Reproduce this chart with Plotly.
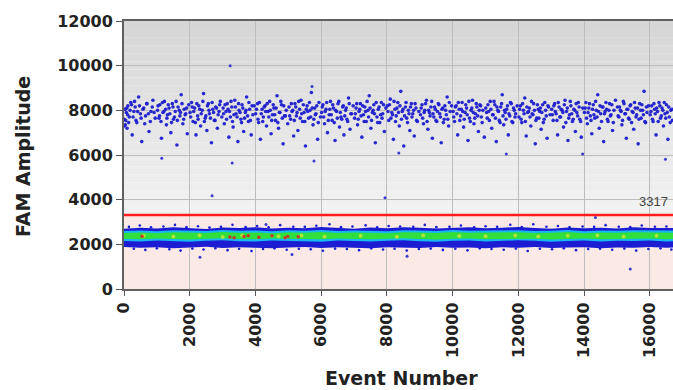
import plotly.graph_objects as go

# ---------------- data ----------------
threshold = 3317

x_ticks = [0, 2000, 4000, 6000, 8000, 10000, 12000, 14000, 16000]
y_ticks = [0, 2000, 4000, 6000, 8000, 10000, 12000]

# positive droplets (FAM+ cluster), spread part
pos_event = [
    15, 30, 52, 70, 95, 120, 160, 205, 250, 300, 340, 390, 445, 500, 540, 600, 655, 700, 760, 820, 880, 950,
    1020, 1065, 1090, 1140, 1185, 1230, 1290, 1320, 1370, 1425, 1470, 1505, 1560, 1610, 1645, 1700, 1740, 1790, 1830, 1880, 1925, 1970,
    2010, 2055, 2100, 2150, 2190, 2240, 2275, 2330, 2380, 2420, 2470, 2520, 2565, 2600, 2660, 2700, 2750, 2790, 2840, 2890, 2930, 2975,
    3015, 3050, 3105, 3140, 3190, 3235, 3280, 3320, 3370, 3410, 3465, 3500, 3555, 3590, 3640, 3690, 3730, 3785, 3820, 3870, 3920, 3960,
    4005, 4060, 4095, 4150, 4200, 4240, 4290, 4335, 4380, 4430, 4475, 4515, 4560, 4610, 4655, 4700, 4745, 4790, 4840, 4880, 4935, 4980,
    5020, 5070, 5110, 5160, 5200, 5245, 5290, 5340, 5385, 5430, 5480, 5520, 5570, 5615, 5660, 5700, 5750, 5800, 5840, 5890, 5930, 5975,
    6010, 6050, 6100, 6145, 6190, 6240, 6280, 6330, 6370, 6420, 6465, 6510, 6555, 6600, 6650, 6690, 6740, 6780, 6830, 6875, 6920, 6970,
    7015, 7060, 7105, 7150, 7190, 7235, 7285, 7325, 7370, 7420, 7460, 7510, 7555, 7600, 7645, 7695, 7735, 7780, 7830, 7870, 7920, 7965,
    8010, 8055, 8100, 8145, 8195, 8240, 8280, 8330, 8375, 8420, 8465, 8510, 8560, 8600, 8650, 8695, 8740, 8785, 8830, 8880, 8925, 8970,
    9020, 9065, 9110, 9150, 9200, 9245, 9290, 9335, 9380, 9425, 9470, 9515, 9560, 9605, 9650, 9695, 9740, 9785, 9830, 9875, 9920, 9965,
    10010, 10055, 10105, 10150, 10195, 10240, 10285, 10330, 10375, 10420, 10465, 10510, 10555, 10600, 10645, 10690, 10735, 10780, 10825, 10870, 10915, 10960,
    11005, 11050, 11095, 11140, 11185, 11230, 11280, 11325, 11370, 11415, 11460, 11505, 11550, 11595, 11640, 11690, 11735, 11780, 11825, 11870, 11915, 11960,
    12015, 12060, 12100, 12150, 12190, 12235, 12280, 12330, 12375, 12415, 12460, 12510, 12555, 12600, 12645, 12690, 12735, 12780, 12825, 12870, 12915, 12960,
    13010, 13055, 13100, 13145, 13190, 13235, 13280, 13325, 13370, 13415, 13460, 13505, 13550, 13595, 13640, 13685, 13730, 13775, 13820, 13865, 13910, 13955,
    14005, 14050, 14095, 14140, 14185, 14230, 14275, 14320, 14365, 14410, 14455, 14500, 14545, 14590, 14635, 14680, 14725, 14770, 14815, 14860, 14905, 14950,
    15010, 15055, 15100, 15145, 15190, 15235, 15280, 15325, 15370, 15415, 15460, 15505, 15550, 15595, 15640, 15685, 15730, 15775, 15820, 15865, 15910, 15955,
    16005, 16050, 16095, 16140, 16185, 16230, 16275, 16320, 16365, 16410, 16455, 16500, 16545, 16590, 16635, 16680,
]
pos_amp = [
    7300, 8050, 7550, 7900, 7200, 8200, 7700, 8350, 6900, 7950, 8150, 7450, 8600, 7850, 6600, 8100, 7750, 8300, 7050, 7950, 8450, 7650,
    8000, 7650, 8250, 6750, 7900, 8400, 7350, 7800, 8100, 7000, 8300, 7600, 7950, 6450, 8150, 7750, 8700, 7400, 8050, 7850, 6950, 8250,
    7900, 8350, 7500, 8100, 6900, 7750, 8200, 7300, 8000, 8750, 7650, 7100, 8300, 7850, 6550, 8050, 7550, 8150, 7200, 7950, 8400, 7700,
    8100, 7400, 7950, 8300, 6800, 7700, 8150, 7250, 8450, 7850, 6600, 8000, 7600, 8250, 7050, 7900, 8600, 7500, 8050, 6900, 7800, 8200,
    7850, 8300, 7450, 6700, 8050, 7700, 8200, 7300, 7950, 8400, 6950, 7800, 8100, 7550, 8650, 7200, 7900, 8250, 6500, 7750, 8000, 7400,
    8150, 7600, 7950, 6850, 8300, 7750, 7100, 8050, 8450, 7500, 7900, 6400, 8200, 7650, 8000, 8800, 7350, 8100, 7850, 6700, 8350, 7700,
    7900, 8250, 7400, 8050, 7000, 7800, 8400, 7550, 8100, 6650, 7950, 8300, 7250, 7700, 8150, 6900, 8000, 7600, 8550, 7150, 7850, 8200,
    7650, 8100, 7350, 7950, 8300, 6800, 7800, 8150, 7500, 8000, 8650, 7200, 7900, 8250, 6550, 7700, 8050, 7450, 8350, 7850, 7050, 8100,
    8200, 7550, 8500, 7900, 6700, 8050, 7750, 8350, 7300, 8850, 7950, 6400, 8150, 7650, 8000, 7100, 8300, 7850, 6850, 8100, 7500, 7950,
    7800, 8250, 7400, 8000, 8450, 7150, 7900, 8150, 6750, 7700, 8050, 7500, 8300, 7850, 6550, 8100, 7600, 8000, 8600, 7300, 7950, 8200,
    7950, 7500, 8200, 6900, 8050, 7750, 8350, 7250, 7900, 8100, 6650, 7650, 8000, 8450, 7400, 7850, 8150, 7050, 8250, 7700, 8000, 6800,
    8100, 7650, 7950, 8400, 7200, 7800, 8250, 6600, 8000, 7550, 8150, 8700, 7350, 7900, 8050, 6900, 7750, 8300, 7450, 8000, 7850, 8200,
    7700, 8200, 7450, 8000, 8550, 6850, 7900, 8100, 7300, 7850, 8300, 6500, 7650, 8050, 7950, 7150, 8250, 7600, 8000, 6750, 8150, 7800,
    8050, 7550, 8300, 7850, 6900, 8150, 7700, 8000, 7250, 8450, 7950, 6650, 7800, 8200, 7500, 8050, 7050, 7900, 8350, 7600, 6800, 8100,
    7900, 8350, 7400, 8100, 7750, 6950, 8250, 7650, 8000, 8700, 7200, 7850, 8150, 6600, 7950, 8050, 7500, 8300, 7800, 7100, 8000, 8450,
    8150, 7700, 8000, 7350, 8400, 7850, 6750, 8050, 7600, 8250, 7950, 7150, 8100, 7800, 6500, 8300, 7650, 8000, 8850, 7450, 7900, 8200,
    7800, 8200, 7500, 8050, 6900, 7950, 8350, 7650, 8100, 7300, 7850, 8250, 6700, 7700, 8000, 7550,
]

# positive droplets, dense core of the cluster
core_event = [
    8, 40, 85, 110, 140, 185, 230, 275, 320, 365, 415, 470, 520, 575, 630, 690, 740, 800, 860, 915,
    1035, 1080, 1125, 1170, 1215, 1265, 1305, 1345, 1395, 1445, 1490, 1535, 1585, 1625, 1680, 1720, 1765, 1815, 1860, 1905,
    2030, 2075, 2120, 2170, 2215, 2255, 2305, 2350, 2400, 2445, 2490, 2540, 2585, 2630, 2680, 2725, 2770, 2815, 2865, 2910,
    3030, 3075, 3120, 3165, 3210, 3255, 3300, 3345, 3390, 3440, 3485, 3530, 3575, 3615, 3665, 3710, 3760, 3800, 3845, 3895,
    4030, 4075, 4120, 4175, 4220, 4265, 4310, 4355, 4405, 4450, 4495, 4540, 4585, 4630, 4680, 4725, 4770, 4815, 4860, 4910,
    5040, 5090, 5135, 5180, 5225, 5265, 5315, 5360, 5405, 5455, 5500, 5545, 5590, 5640, 5680, 5725, 5775, 5820, 5865, 5910,
    6030, 6075, 6120, 6165, 6215, 6260, 6305, 6350, 6395, 6440, 6490, 6535, 6580, 6625, 6670, 6715, 6760, 6805, 6850, 6900,
    7035, 7080, 7125, 7170, 7210, 7260, 7305, 7350, 7395, 7440, 7485, 7530, 7580, 7620, 7670, 7715, 7760, 7805, 7850, 7895,
    8030, 8075, 8120, 8170, 8215, 8260, 8305, 8350, 8395, 8440, 8485, 8535, 8580, 8625, 8670, 8715, 8760, 8810, 8855, 8900,
    9040, 9085, 9130, 9175, 9220, 9265, 9310, 9360, 9400, 9445, 9490, 9535, 9580, 9625, 9670, 9715, 9760, 9805, 9850, 9895,
    10030, 10080, 10125, 10170, 10215, 10260, 10305, 10350, 10395, 10440, 10490, 10535, 10580, 10625, 10670, 10715, 10760, 10805, 10850, 10895,
    11030, 11070, 11115, 11160, 11210, 11255, 11300, 11345, 11390, 11440, 11485, 11530, 11575, 11620, 11665, 11710, 11755, 11800, 11850, 11895,
    12035, 12080, 12125, 12170, 12210, 12255, 12305, 12350, 12395, 12440, 12485, 12530, 12575, 12620, 12665, 12710, 12755, 12800, 12845, 12895,
    13030, 13075, 13120, 13170, 13210, 13255, 13300, 13350, 13395, 13440, 13485, 13530, 13575, 13620, 13665, 13710, 13755, 13800, 13845, 13890,
    14030, 14070, 14115, 14160, 14205, 14250, 14295, 14345, 14390, 14435, 14480, 14525, 14570, 14615, 14660, 14705, 14750, 14795, 14840, 14885,
    15030, 15075, 15120, 15165, 15210, 15255, 15300, 15350, 15395, 15440, 15485, 15530, 15575, 15620, 15665, 15710, 15755, 15800, 15845, 15890,
    16030, 16075, 16120, 16160, 16205, 16250, 16300, 16345, 16390, 16435, 16480, 16525, 16570, 16615, 16660,
]
core_amp = [
    7600, 7350, 8100, 7800, 7450, 8000, 8250, 7700, 8400, 7550, 7950, 8200, 7650, 8050, 7400, 8300, 7850, 7500, 8150, 7900,
    8200, 7750, 7500, 8350, 7950, 8050, 7650, 8250, 7850, 7450, 8150, 7700, 8400, 7550, 8000, 7900, 8300, 7600, 7800, 8100,
    7700, 8150, 7950, 7450, 8300, 7600, 8050, 7850, 8400, 7500, 7750, 8200, 8000, 7650, 8350, 7900, 7550, 8100, 7800, 8250,
    7850, 8250, 7600, 8050, 7950, 8400, 7500, 7800, 8150, 7700, 8300, 7900, 7450, 8100, 7650, 8000, 7750, 8350, 7550, 8200,
    8050, 7600, 8350, 7850, 7500, 8150, 7950, 8300, 7700, 8000, 7550, 8250, 7800, 8100, 7450, 7900, 8400, 7650, 8200, 7750,
    7750, 8300, 8000, 7550, 8150, 7900, 8400, 7650, 7850, 8250, 7500, 8050, 7950, 8350, 7700, 8100, 7600, 7800, 8200, 7450,
    8150, 7700, 7950, 8350, 7550, 8050, 7800, 8250, 7450, 8000, 7650, 8400, 7900, 7600, 8200, 7750, 8100, 7500, 8300, 7850,
    7850, 8300, 7600, 8050, 7750, 8200, 7500, 7950, 8400, 7700, 8100, 7550, 8000, 7850, 8350, 7450, 8150, 7800, 7650, 8250,
    7950, 8250, 7650, 7800, 8400, 7500, 8100, 7900, 8200, 7600, 8050, 7750, 8350, 7450, 7850, 8150, 7700, 8000, 8300, 7550,
    8100, 7650, 7900, 8300, 7500, 8000, 7750, 8400, 7850, 8150, 7550, 7950, 8250, 7700, 8050, 7450, 8200, 7800, 7600, 8350,
    7700, 8150, 7850, 8350, 7550, 8050, 7950, 7600, 8250, 7800, 8400, 7500, 8100, 7900, 7650, 8300, 7750, 8000, 8200, 7450,
    7900, 8250, 7550, 8050, 7800, 8400, 7650, 8150, 7950, 7450, 8300, 7750, 8000, 7600, 8200, 7850, 8350, 7500, 8100, 7700,
    8050, 7600, 8300, 7850, 7500, 8150, 7950, 7700, 8400, 7800, 8000, 7550, 8250, 7650, 8100, 7900, 7450, 8350, 7750, 8200,
    7800, 8200, 7950, 7550, 8350, 7700, 8050, 7900, 8250, 7450, 8100, 7650, 8400, 7850, 7600, 8000, 8300, 7750, 8150, 7500,
    8100, 7650, 7900, 8300, 7550, 8050, 7800, 8400, 7700, 7950, 8200, 7500, 8150, 7850, 8350, 7600, 8000, 7750, 8250, 7450,
    7750, 8150, 7950, 7550, 8300, 7850, 8050, 7650, 8200, 7450, 7900, 8350, 7700, 8100, 7600, 8000, 8250, 7800, 7500, 8150,
    7950, 7600, 8300, 7850, 8100, 7500, 8200, 7750, 8000, 8350, 7650, 7900, 8150, 7450, 8050,
]

# isolated droplets away from the two clusters
stray_event = [3230, 3290, 1150, 5720, 5780, 2680, 7940, 16470, 11630, 8360, 13950,
               2310, 5110, 4320, 8610, 15400, 14340]
stray_amp = [10000, 5640, 5860, 9070, 5730, 4180, 4090, 5810, 6040, 6090, 6040,
             1420, 1550, 2890, 1470, 890, 3200]

# negative-droplet band: outline of its colour layers
band_event = [0, 500, 1000, 1500, 2000, 2500, 3000, 3500, 4000, 4500, 5000, 5500,
              6000, 6500, 7000, 7500, 8000, 8500, 9000, 9500, 10000, 10500, 11000,
              11500, 12000, 12500, 13000, 13500, 14000, 14500, 15000, 15500, 16000,
              16500, 17000]
blue_low = [1880, 1850, 1870, 1830, 1860, 1890, 1840, 1870, 1850, 1820, 1860, 1880,
            1840, 1870, 1850, 1830, 1870, 1860, 1840, 1880, 1850, 1860, 1830, 1870,
            1850, 1880, 1840, 1860, 1870, 1830, 1860, 1850, 1880, 1850, 1860]
blue_high = [2700, 2740, 2710, 2760, 2720, 2690, 2750, 2730, 2770, 2710, 2740, 2720,
             2780, 2730, 2700, 2750, 2720, 2760, 2740, 2710, 2730, 2760, 2720, 2740,
             2780, 2730, 2700, 2750, 2720, 2740, 2710, 2760, 2730, 2720, 2740]
cyan_low = [2150, 2130, 2170, 2140, 2120, 2160, 2180, 2140, 2130, 2170, 2150, 2160,
            2120, 2170, 2150, 2130, 2160, 2180, 2140, 2120, 2160, 2170, 2130, 2150,
            2180, 2160, 2120, 2150, 2170, 2130, 2160, 2150, 2170, 2130, 2160]
cyan_high = [2600, 2620, 2590, 2630, 2610, 2600, 2640, 2610, 2620, 2590, 2630, 2610,
             2640, 2600, 2620, 2610, 2590, 2630, 2620, 2600, 2640, 2610, 2590, 2620,
             2630, 2600, 2610, 2640, 2590, 2620, 2610, 2630, 2600, 2620, 2610]
green_low = [2250, 2230, 2260, 2240, 2220, 2250, 2270, 2240, 2230, 2260, 2240, 2250,
             2230, 2260, 2240, 2230, 2250, 2270, 2240, 2220, 2250, 2260, 2230, 2240,
             2270, 2250, 2220, 2240, 2260, 2230, 2250, 2240, 2260, 2230, 2250]
green_high = [2510, 2530, 2500, 2540, 2520, 2510, 2550, 2520, 2530, 2500, 2540, 2520,
              2550, 2510, 2530, 2520, 2500, 2540, 2530, 2510, 2550, 2520, 2500, 2530,
              2540, 2510, 2520, 2550, 2500, 2530, 2520, 2540, 2510, 2530, 2520]

# loose droplets on the top and bottom fringe of the negative band
fringe_top_event = [150, 480, 820, 1200, 1550, 1900, 2250, 2600, 2950, 3300, 3700, 4050,
                    4400, 4750, 5150, 5500, 5850, 6250, 6600, 6950, 7350, 7700, 8050,
                    8400, 8800, 9150, 9500, 9900, 10250, 10650, 11000, 11350, 11750,
                    12100, 12450, 12850, 13200, 13550, 13950, 14300, 14650, 15050,
                    15400, 15750, 16150, 16500]
fringe_top_amp = [2780, 2840, 2760, 2800, 2870, 2770, 2810, 2750, 2790, 2880, 2770, 2820,
                  2760, 2860, 2790, 2780, 2830, 2900, 2770, 2800, 2850, 2760, 2820,
                  2800, 2780, 2870, 2770, 2790, 2840, 2760, 2810, 2790, 2880,
                  2770, 2900, 2790, 2820, 2760, 2800, 2780, 2860, 2790,
                  2770, 2840, 2790, 2800]
fringe_bot_event = [300, 650, 1000, 1380, 1720, 2080, 2420, 2780, 3150, 3500, 3880, 4230,
                    4580, 4950, 5320, 5680, 6050, 6420, 6780, 7150, 7520, 7880, 8230,
                    8600, 8970, 9330, 9700, 10080, 10450, 10820, 11180, 11550, 11920,
                    12280, 12650, 13020, 13380, 13750, 14120, 14480, 14850, 15220,
                    15580, 15950, 16320, 16650]
fringe_bot_amp = [1800, 1750, 1820, 1780, 1720, 1810, 1770, 1830, 1740, 1800, 1700, 1790,
                  1820, 1760, 1800, 1780, 1710, 1810, 1790, 1740, 1820, 1770, 1800,
                  1720, 1790, 1810, 1750, 1800, 1730, 1820, 1790, 1760, 1810,
                  1700, 1800, 1780, 1820, 1740, 1790, 1800, 1760, 1810,
                  1720, 1790, 1820, 1770]

# densest spots inside the negative band
yellow_event = [600, 1500, 2300, 3000, 3600, 4700, 5400, 6100, 7200, 8300, 9100,
                10200, 11000, 11900, 12600, 13500, 14400, 15200, 16200]
yellow_amp = [2380, 2350, 2400, 2330, 2390, 2360, 2400, 2350, 2380, 2340, 2390,
              2370, 2360, 2400, 2350, 2380, 2390, 2350, 2380]
red_event = [550, 3220, 3350, 3650, 3780, 4100, 4500, 4900, 4980, 5300]
red_amp = [2360, 2330, 2300, 2350, 2380, 2320, 2380, 2300, 2350, 2340]

# ---------------- figure ----------------
fig = go.Figure()


def band(low, high, color):
    fig.add_trace(go.Scatter(
        x=band_event + band_event[::-1], y=low + high[::-1],
        fill="toself", fillcolor=color, mode="lines",
        line=dict(width=0), hoverinfo="skip", showlegend=False))


band(blue_low, blue_high, "#1c1cd2")
band(cyan_low, cyan_high, "#18b8f0")
band(green_low, green_high, "#30de3c")

dot = dict(mode="markers", showlegend=False, hoverinfo="skip")
fig.add_trace(go.Scatter(x=fringe_top_event, y=fringe_top_amp,
                         marker=dict(size=2.6, color="#1c1cd2", line=dict(width=0)), **dot))
fig.add_trace(go.Scatter(x=fringe_bot_event, y=fringe_bot_amp,
                         marker=dict(size=2.6, color="#1c1cd2", line=dict(width=0)), **dot))
fig.add_trace(go.Scatter(x=yellow_event, y=yellow_amp,
                         marker=dict(size=4, color="#c4e838", line=dict(width=0)),
                         opacity=0.85, **dot))
fig.add_trace(go.Scatter(x=red_event, y=red_amp,
                         marker=dict(size=3.5, color="#d82828", line=dict(width=0)),
                         opacity=0.9, **dot))
fig.add_trace(go.Scatter(x=pos_event, y=pos_amp,
                         marker=dict(size=3.6, color="#1e1ecf", line=dict(width=0)),
                         opacity=0.95, **dot))
fig.add_trace(go.Scatter(x=core_event, y=core_amp,
                         marker=dict(size=3.6, color="#1e1ecf", line=dict(width=0)),
                         opacity=0.95, **dot))
fig.add_trace(go.Scatter(x=stray_event, y=stray_amp,
                         marker=dict(size=3, color="#3a3ad0", line=dict(width=0)), **dot))

# background: grey gradient above threshold, pink below
shapes = []
n = 24
for i in range(n):
    y0 = threshold + (12000 - threshold) * i / n
    y1 = threshold + (12000 - threshold) * (i + 1) / n
    t = i / (n - 1)
    g = int(round(242 - (242 - 214) * t))
    shapes.append(dict(type="rect", xref="paper", x0=0, x1=1, yref="y", y0=y0, y1=y1,
                       fillcolor=f"rgb({g},{g},{g})", line=dict(width=0), layer="below"))
shapes.append(dict(type="rect", xref="paper", x0=0, x1=1, yref="y", y0=0, y1=threshold,
                   fillcolor="#fbe9e5", line=dict(width=0), layer="below"))
shapes.append(dict(type="line", xref="paper", x0=0, x1=1, yref="y", y0=threshold, y1=threshold,
                   line=dict(color="#ff1e1e", width=2.5)))

tick_font = dict(family="DejaVu Sans", size=16, color="#222222", weight="bold")

fig.update_layout(
    width=673, height=390,
    margin=dict(l=124, r=0, t=21, b=101),
    paper_bgcolor="white", plot_bgcolor="white",
    shapes=shapes,
    font=dict(family="DejaVu Sans", color="#222222"),
    showlegend=False,
    annotations=[
        dict(text=str(threshold), xref="paper", x=1, xanchor="right", xshift=-3,
             yref="y", y=threshold, yanchor="bottom", yshift=4, showarrow=False,
             font=dict(family="Liberation Sans", size=13, color="#444444")),
        dict(text="<b>Event Number</b>", xref="paper", x=0.506, xanchor="center",
             yref="paper", y=0, yanchor="middle", yshift=-89, showarrow=False,
             font=dict(family="DejaVu Sans", size=19, color="#222222")),
        dict(text="<b>FAM Amplitude</b>", xref="paper", x=0, xanchor="center", xshift=-101,
             yref="paper", y=0.4925, yanchor="middle", textangle=-90, showarrow=False,
             font=dict(family="DejaVu Sans", size=19, color="#222222")),
    ],
)
fig.update_xaxes(range=[0, 16700], tickvals=x_ticks, ticktext=[str(v) for v in x_ticks],
                 tickangle=-90, ticks="outside", ticklen=5, tickcolor="#555555",
                 showline=True, linecolor="#606060", linewidth=2, mirror=True,
                 showgrid=True, gridcolor="#bdbdbd", gridwidth=1, zeroline=False,
                 tickfont=tick_font)
fig.update_yaxes(range=[0, 12000], tickvals=y_ticks, ticktext=[str(v) for v in y_ticks],
                 ticks="outside", ticklen=6, tickcolor="#555555",
                 showline=True, linecolor="#606060", linewidth=2,
                 showgrid=True, gridcolor="#bdbdbd", gridwidth=1, zeroline=False,
                 tickfont=tick_font)

fig.write_html("out.html")
